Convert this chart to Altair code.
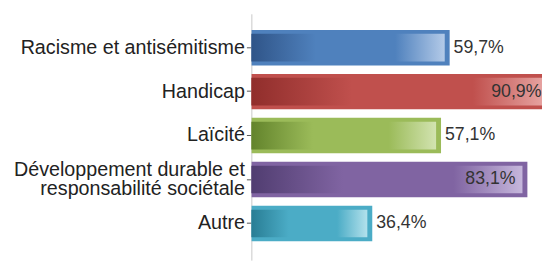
import altair as alt
import pandas as pd

categories = [
    "Racisme et antisémitisme",
    "Handicap",
    "Laïcité",
    "Développement durable et\nresponsabilité sociétale",
    "Autre",
]
values = [59.7, 90.9, 57.1, 83.1, 36.4]

base_colors = ["#4f81bd", "#c0504d", "#9bbb59", "#8064a2", "#4bacc6"]
dark_colors = ["#2d5184", "#8e2c2a", "#5e7f28", "#4e3b6e", "#24778e"]
light_colors = ["#b3cae8", "#e9a9a7", "#d2e3b0", "#c6b7dc", "#b3e1ec"]

df = pd.DataFrame({"cat": categories, "value": values})
df["label"] = [f"{v:.1f}".replace(".", ",") + "%" for v in values]

x_enc = alt.X("value:Q", scale=alt.Scale(domain=[0, 87.5], nice=False), axis=None)
y_enc = alt.Y(
    "cat:N",
    sort=categories,
    scale=alt.Scale(paddingInner=0.193, paddingOuter=0.399, align=0.46),
    axis=alt.Axis(
        title=None,
        labelExpr="split(datum.label, '\\n')",
        labelFontSize=20,
        labelFont="Liberation Sans",
        labelColor="#222222",
        labelLineHeight=20,
        labelOffset={"condition": {"test": "indexof(datum.label, '\\n') >= 0", "value": -10}, "value": 0},
        labelPadding=2,
        labelLimit=0,
        tickSize=5,
        tickColor="#555555",
        domainColor="#c8c8c8",
        domainWidth=1,
        grid=False,
    ),
)

base = alt.Chart(df)

outer = base.mark_bar(clip=True).encode(
    x=x_enc,
    y=y_enc,
    color=alt.Color("cat:N", scale=alt.Scale(domain=categories, range=base_colors), legend=None),
)

layers = [outer]
for c, b, d, l in zip(categories, base_colors, dark_colors, light_colors):
    grad = {
        "gradient": "linear",
        "x1": 0, "x2": 1, "y1": 0, "y2": 0,
        "stops": [
            {"offset": 0, "color": d},
            {"offset": 0.35, "color": b},
            {"offset": 0.75, "color": b},
            {"offset": 1, "color": l},
        ],
    }
    inner = base.transform_filter(alt.datum.cat == c).mark_bar(
        clip=True, fill=grad, height={"band": 0.78}, xOffset=-5, x2Offset=5
    ).encode(x=x_enc, y=y_enc)
    layers.append(inner)

text_out = base.transform_filter("datum.value < 75").mark_text(
    align="left", baseline="middle", dx=4, fontSize=18, font="Liberation Sans", color="#333333"
).encode(x=x_enc, y=y_enc, text="label:N")
text_in = base.transform_filter("datum.value >= 75").mark_text(
    align="right", baseline="middle", dx=-12, fontSize=18, font="Liberation Sans", color="#333333"
).encode(x=x_enc, y=y_enc, text="label:N")
layers += [text_out, text_in]

chart = alt.layer(*layers).properties(
    width=295,
    height=250,
    autosize=alt.AutoSizeParams(type="none"),
    padding={"left": 247, "top": 4, "right": 0, "bottom": 0},
    background="white",
).configure_view(stroke=None)

chart.save("out.html", embed_options={"renderer": "svg", "actions": False})
